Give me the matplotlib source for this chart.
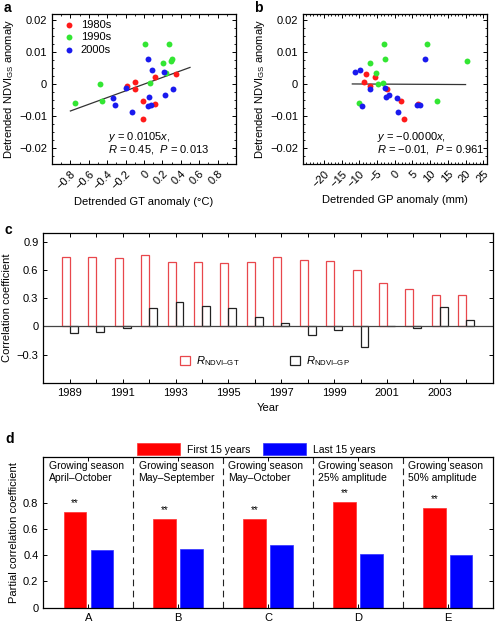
import matplotlib
matplotlib.use("Agg")
import matplotlib.pyplot as plt
from matplotlib.ticker import FuncFormatter, MultipleLocator

plt.rcParams['font.family'] = ['Liberation Sans', 'DejaVu Sans']
plt.rcParams['mathtext.fontset'] = 'custom'
plt.rcParams['mathtext.rm'] = 'Liberation Sans'
plt.rcParams['mathtext.it'] = 'Liberation Sans:italic'
plt.rcParams['font.size'] = 8

# ---- panel a / b data: detrended anomalies per year, by decade
ndvi_80s = [-0.0005, 0.0006, -0.0014, -0.0054, -0.0110, 0.0023, -0.0061, 0.0031]
gt_80s = [-0.185, -0.096, -0.100, -0.007, -0.014, 0.120, 0.125, 0.350]
gp_80s = [-7.0, -8.7, -2.2, 1.8, 2.5, -5.6, 6.7, -8.2]

ndvi_90s = [-0.0059, 0.0002, -0.0053, 0.0125, 0.0003, 0.0067, 0.0126, 0.0074, 0.0080, 0.0034]
gt_90s = [-0.755, -0.473, -0.452, 0.014, 0.068, 0.206, 0.270, 0.290, 0.306, 0.235]
gp_90s = [-10.1, -4.7, 11.9, -3.1, -3.4, -7.1, 9.1, 20.4, -2.9, -5.4]

ndvi_00s = [-0.0043, -0.0064, -0.0011, -0.0087, 0.0078, 0.0044, -0.0040, -0.0068,
            -0.0064, 0.0039, -0.0034, -0.0014]
gt_00s = [-0.340, -0.317, -0.200, -0.128, 0.043, 0.089, 0.053, 0.043, 0.071, 0.220, 0.230, 0.317]
gp_00s = [0.7, 6.4, -2.8, 0.9, 8.4, -9.7, -2.4, -9.2, 7.2, -11.2, -1.7, -7.1]

decades = ['1980s', '1990s', '2000s']
dec_colors = ['#ff1a1a', '#33e633', '#1a1aee']

fit_a_slope = 0.0105
fit_a_x = [-0.8, 0.5]
fit_b_slope = -0.000006
fit_b_x = [-12, 20]

# ---- panel c data: moving-window correlation coefficients
years_c = list(range(1989, 2005))
r_gt = [0.745, 0.745, 0.727, 0.762, 0.688, 0.685, 0.681, 0.688, 0.738, 0.706,
        0.695, 0.600, 0.466, 0.400, 0.332, 0.335]
r_gp = [-0.070, -0.056, -0.014, 0.198, 0.265, 0.215, 0.198, 0.106, 0.035, -0.095,
        -0.035, -0.215, 0.003, -0.015, 0.208, 0.067]

# ---- panel d data: partial correlations
groups_d = ['A', 'B', 'C', 'D', 'E']
group_text = ['Growing season\nApril\u2013October', 'Growing season\nMay\u2013September',
              'Growing season\nMay\u2013October', 'Growing season\n25% amplitude',
              'Growing season\n50% amplitude']
first15 = [0.729, 0.678, 0.678, 0.805, 0.759]
last15 = [0.438, 0.450, 0.476, 0.408, 0.400]


def fmt(v, pos):
    s = '%g' % round(v, 6)
    return s.replace('-', '\u2212')


def inside_ticks(ax):
    ax.tick_params(which='both', direction='in', top=True, right=True)
    ax.tick_params(which='major', length=3, width=0.7)
    ax.tick_params(which='minor', length=1.5, width=0.6)
    for s in ax.spines.values():
        s.set_linewidth(0.9)


fig = plt.figure(figsize=(4.98, 6.23), dpi=100)

# ---------- panel a
axa = fig.add_axes([0.1044, 0.7368, 0.3695, 0.2408])
for nd, gt, lab, col in zip([ndvi_80s, ndvi_90s, ndvi_00s], [gt_80s, gt_90s, gt_00s], decades, dec_colors):
    axa.scatter(gt, nd, s=18, color=col, label=lab, zorder=3, linewidths=0)
axa.plot(fit_a_x, [fit_a_slope * v for v in fit_a_x], color='#333333', lw=0.9, zorder=2)
axa.set_xlim(-1, 1)
axa.set_ylim(-0.025, 0.022)
axa.xaxis.set_minor_locator(MultipleLocator(0.1))
axa.yaxis.set_major_locator(MultipleLocator(0.01))
axa.yaxis.set_minor_locator(MultipleLocator(0.0025))
axa.set_xticks([-0.8, -0.6, -0.4, -0.2, 0, 0.2, 0.4, 0.6, 0.8])
axa.xaxis.set_major_formatter(FuncFormatter(fmt))
axa.yaxis.set_major_formatter(FuncFormatter(fmt))
inside_ticks(axa)
plt.setp(axa.get_xticklabels(), rotation=45, ha='right', rotation_mode='anchor')
axa.set_xlabel('Detrended GT anomaly (\u00b0C)', labelpad=4)
axa.set_ylabel('Detrended NDVI$_{\\mathrm{GS}}$ anomaly', labelpad=2)
axa.legend(loc='upper left', frameon=False, handletextpad=0.1, borderaxespad=0.2,
           labelspacing=0.25, borderpad=0.3, fontsize=8)
axa.text(-0.39, -0.0164, '$y$ = 0.0105$x$,', va='center', fontsize=8)
axa.text(-0.39, -0.0205, '$R$ = 0.45,  $P$ = 0.013', va='center', fontsize=8)

# ---------- panel b
axb = fig.add_axes([0.608, 0.7368, 0.3695, 0.2408])
for nd, gp, col in zip([ndvi_80s, ndvi_90s, ndvi_00s], [gp_80s, gp_90s, gp_00s], dec_colors):
    axb.scatter(gp, nd, s=18, color=col, zorder=3, linewidths=0)
axb.plot(fit_b_x, [fit_b_slope * v for v in fit_b_x], color='#333333', lw=0.9, zorder=2)
axb.set_xlim(-26, 26)
axb.set_ylim(-0.025, 0.022)
axb.set_xticks([-20, -15, -10, -5, 0, 5, 10, 15, 20, 25])
axb.xaxis.set_minor_locator(MultipleLocator(1))
axb.yaxis.set_major_locator(MultipleLocator(0.01))
axb.yaxis.set_minor_locator(MultipleLocator(0.0025))
axb.xaxis.set_major_formatter(FuncFormatter(fmt))
axb.yaxis.set_major_formatter(FuncFormatter(fmt))
inside_ticks(axb)
plt.setp(axb.get_xticklabels(), rotation=45, ha='right', rotation_mode='anchor')
axb.set_xlabel('Detrended GP anomaly (mm)', labelpad=4)
axb.set_ylabel('Detrended NDVI$_{\\mathrm{GS}}$ anomaly', labelpad=2)
axb.text(-5.1, -0.0164, '$y$ = \u22120.0000$x$,', va='center', fontsize=8)
axb.text(-5.1, -0.0205, '$R$ = \u22120.01,  $P$ = 0.961', va='center', fontsize=8)

# ---------- panel c
axc = fig.add_axes([0.087, 0.3857, 0.9024, 0.2408])
w = 0.3
axc.bar([y - w / 2 for y in years_c], r_gt, width=w, facecolor='none', edgecolor='#e8474c',
        lw=0.9, label='$R_{\\mathrm{NDVI\u2013GT}}$')
axc.bar([y + w / 2 for y in years_c], r_gp, width=w, facecolor='none', edgecolor='#222222',
        lw=0.9, label='$R_{\\mathrm{NDVI\u2013GP}}$')
axc.axhline(0, color='#444444', lw=0.9)
axc.set_xlim(1988, 2005)
axc.set_ylim(-0.6, 1.0)
axc.set_xticks(years_c)
axc.set_xticklabels([str(y) if y % 2 == 1 else '' for y in years_c])
axc.set_yticks([-0.3, 0, 0.3, 0.6, 0.9])
axc.yaxis.set_major_formatter(FuncFormatter(fmt))
inside_ticks(axc)
axc.set_xlabel('Year', labelpad=4)
axc.set_ylabel('Correlation coefficient', labelpad=3)
axc.legend(loc='lower center', bbox_to_anchor=(0.493, 0.03), ncol=2, frameon=False,
           handlelength=0.9, handleheight=0.9, columnspacing=4.5, handletextpad=0.6, fontsize=8)

# ---------- panel d
axd = fig.add_axes([0.087, 0.02456, 0.9024, 0.2424])
xd = list(range(1, len(groups_d) + 1))
wd = 0.25
axd.bar([v - 0.15 for v in xd], first15, width=wd, color='#ff0000', edgecolor='#ff3030',
        lw=0.5, label='First 15 years')
axd.bar([v + 0.15 for v in xd], last15, width=wd, color='#0000ff', edgecolor='#3030ff',
        lw=0.5, label='Last 15 years')
for v, h in zip(xd, first15):
    axd.text(v - 0.15, h + 0.03, '**', ha='center', va='bottom', fontsize=7)
for v, t in zip(xd, group_text):
    axd.text(v - 0.44, 1.12, t, ha='left', va='top', fontsize=7.5, linespacing=1.25)
for v in xd[:-1]:
    axd.axvline(v + 0.5, color='#222222', lw=0.8, ls=(0, (6, 4)))
axd.set_xlim(0.5, 5.5)
axd.set_ylim(0, 1.15)
axd.set_xticks(xd)
axd.set_xticklabels(groups_d)
axd.set_yticks([0, 0.2, 0.4, 0.6, 0.8])
axd.yaxis.set_major_formatter(FuncFormatter(fmt))
inside_ticks(axd)
axd.set_ylabel('Partial correlation coefficient', labelpad=3)
axd.legend(loc='lower center', bbox_to_anchor=(0.473, 0.985), ncol=2, frameon=False,
           handlelength=4.2, handleheight=1.3, columnspacing=1.2, handletextpad=0.6, fontsize=7.5,
           borderaxespad=0)

# panel letters
for lab, x, y in [('a', 0.008, 0.999), ('b', 0.51, 0.999), ('c', 0.01, 0.642), ('d', 0.01, 0.307)]:
    fig.text(x, y, lab, fontsize=10, fontweight='bold', va='top')

fig.savefig('out.png', dpi=100)
